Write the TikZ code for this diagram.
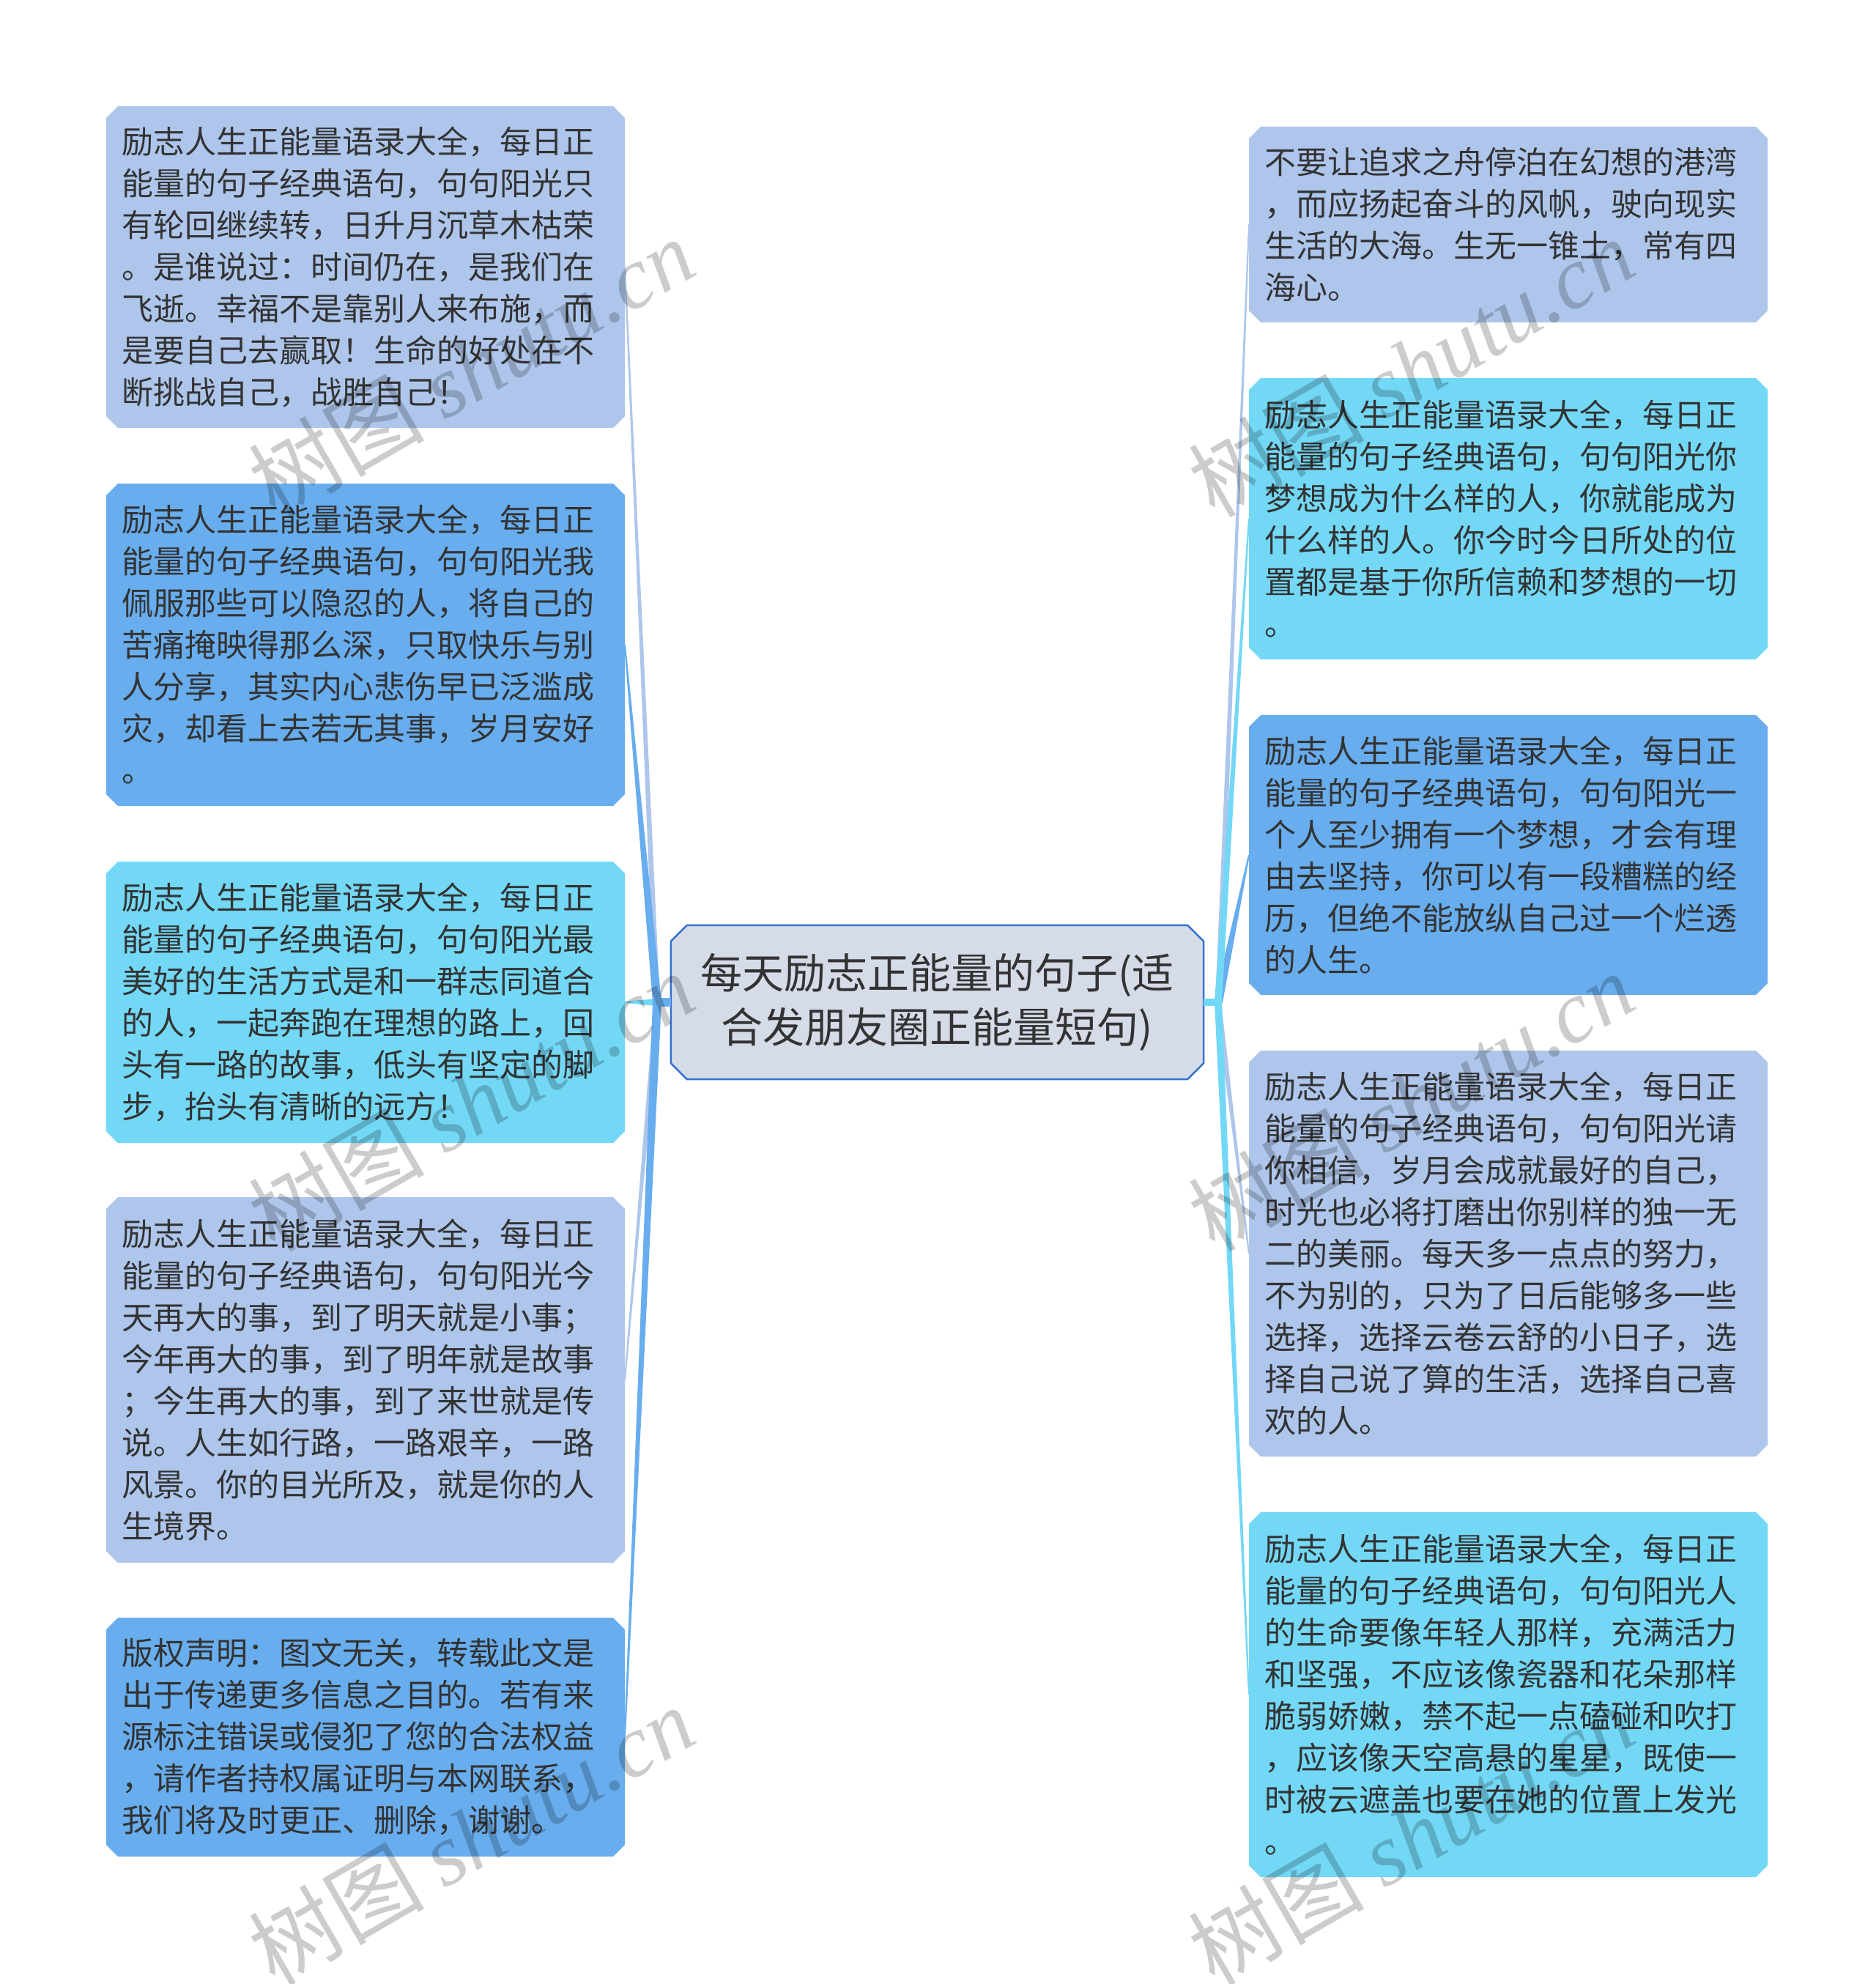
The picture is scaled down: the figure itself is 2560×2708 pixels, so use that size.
\documentclass[tikz,border=0pt]{standalone}
\usepackage{fontspec}
\setmainfont{Noto Sans CJK SC}
\newfontfamily\wmlatin{Liberation Serif}
\usetikzlibrary{calc}
\definecolor{lav}{RGB}{174,198,235}
\definecolor{mblue}{RGB}{104,173,238}
\definecolor{cyanb}{RGB}{115,216,246}
\definecolor{cfill}{RGB}{213,220,232}
\definecolor{cborder}{RGB}{52,112,206}
\definecolor{txt}{RGB}{51,51,51}
\newcommand\chamferfill[2]{%
  \fill[#1] ([xshift=#2]path picture bounding box.north west) -- ([xshift=-#2]path picture bounding box.north east)
   -- ([yshift=-#2]path picture bounding box.north east) -- ([yshift=#2]path picture bounding box.south east)
   -- ([xshift=-#2]path picture bounding box.south east) -- ([xshift=#2]path picture bounding box.south west)
   -- ([yshift=#2]path picture bounding box.south west) -- ([yshift=-#2]path picture bounding box.north west) -- cycle;}
\newcommand\wedgeconn[4]{%
  \fill[#4] ($(#1)!#3!90:(#2)$) -- ($(#2)!1pt!-90:(#1)$) -- ($(#2)!1pt!90:(#1)$) -- ($(#1)!#3!-90:(#2)$) -- cycle;}
\tikzset{
  cbox/.style={rectangle, minimum width=708pt, text width=666pt, inner xsep=21pt, inner ysep=0pt,
    align=left, text=txt, font=\fontsize{43pt}{57pt}\selectfont,
    path picture={\chamferfill{#1}{16pt}}},
  wmark/.style={rotate=30, text=black, text opacity=0.2, font=\fontsize{120pt}{120pt}\selectfont},
}
\begin{document}
\begin{tikzpicture}[x=1pt,y=-1pt]
\useasboundingbox (0,0) rectangle (2560,2708);
% junction points
\coordinate (jl) at (897,1368);
\coordinate (jr) at (1663,1368);
% boxes (positions only; drawn later)
\path
 (499,364.5) coordinate (pL1) (499,880) coordinate (pL2) (499,1368) coordinate (pL3)
 (499,1883.5) coordinate (pL4) (499,2371) coordinate (pL5)
 (2059,306.5) coordinate (pR1) (2059,708) coordinate (pR2) (2059,1167) coordinate (pR3)
 (2059,1711) coordinate (pR4) (2059,2313) coordinate (pR5);
% connectors
\coordinate (eL1) at (853,364.5);
\coordinate (eL2) at (853,880);
\coordinate (eL3) at (853,1368);
\coordinate (eL4) at (853,1883.5);
\coordinate (eL5) at (853,2371);
\coordinate (eR1) at (1705,306.5);
\coordinate (eR2) at (1705,708);
\coordinate (eR3) at (1705,1167);
\coordinate (eR4) at (1705,1711);
\coordinate (eR5) at (1705,2313);
\wedgeconn{jl}{eL1}{4pt}{lav}
\wedgeconn{jl}{eL4}{4pt}{lav}
\wedgeconn{jl}{eL3}{5pt}{cyanb}
\wedgeconn{jl}{eL2}{6pt}{mblue}
\wedgeconn{jl}{eL5}{6pt}{mblue}
\wedgeconn{jr}{eR1}{4pt}{lav}
\wedgeconn{jr}{eR4}{4pt}{lav}
\wedgeconn{jr}{eR3}{6pt}{mblue}
\wedgeconn{jr}{eR2}{5pt}{cyanb}
\wedgeconn{jr}{eR5}{5pt}{cyanb}
% center
\node[rectangle, minimum width=727pt, minimum height=210pt, inner sep=0pt, align=center, text=txt,
  font=\fontsize{57pt}{74pt}\selectfont, path picture={\chamferfill{cfill}{22pt}}] (C) at (1279.5,1368)
  {每天励志正能量的句子(适\\合发朋友圈正能量短句)};
\draw[cborder, line width=2.5pt, line join=round]
  ([xshift=22pt]C.north west) -- ([xshift=-22pt]C.north east) -- ([yshift=-22pt]C.north east)
  -- ([yshift=22pt]C.south east) -- ([xshift=-22pt]C.south east) -- ([xshift=22pt]C.south west)
  -- ([yshift=22pt]C.south west) -- ([yshift=-22pt]C.north west) -- cycle;
\draw[mblue, line width=12pt] (C.west) -- (jl);
\draw[cyanb, line width=10pt] (C.east) -- (jr);
% left boxes
\node[cbox=lav, minimum height=439pt] (L1) at (pL1) {励志人生正能量语录大全，每日正\\能量的句子经典语句，句句阳光只\\有轮回继续转，日升月沉草木枯荣\\。是谁说过：时间仍在，是我们在\\飞逝。幸福不是靠别人来布施，而\\是要自己去赢取！生命的好处在不\\断挑战自己，战胜自己！};
\node[cbox=mblue, minimum height=440pt] (L2) at (pL2) {励志人生正能量语录大全，每日正\\能量的句子经典语句，句句阳光我\\佩服那些可以隐忍的人，将自己的\\苦痛掩映得那么深，只取快乐与别\\人分享，其实内心悲伤早已泛滥成\\灾，却看上去若无其事，岁月安好\\。};
\node[cbox=cyanb, minimum height=384pt] (L3) at (pL3) {励志人生正能量语录大全，每日正\\能量的句子经典语句，句句阳光最\\美好的生活方式是和一群志同道合\\的人，一起奔跑在理想的路上，回\\头有一路的故事，低头有坚定的脚\\步，抬头有清晰的远方！};
\node[cbox=lav, minimum height=499pt] (L4) at (pL4) {励志人生正能量语录大全，每日正\\能量的句子经典语句，句句阳光今\\天再大的事，到了明天就是小事；\\今年再大的事，到了明年就是故事\\；今生再大的事，到了来世就是传\\说。人生如行路，一路艰辛，一路\\风景。你的目光所及，就是你的人\\生境界。};
\node[cbox=mblue, minimum height=326pt] (L5) at (pL5) {版权声明：图文无关，转载此文是\\出于传递更多信息之目的。若有来\\源标注错误或侵犯了您的合法权益\\，请作者持权属证明与本网联系，\\我们将及时更正、删除，谢谢。};
% right boxes
\node[cbox=lav, minimum height=267pt] (R1) at (pR1) {不要让追求之舟停泊在幻想的港湾\\，而应扬起奋斗的风帆，驶向现实\\生活的大海。生无一锥土，常有四\\海心。};
\node[cbox=cyanb, minimum height=384pt] (R2) at (pR2) {励志人生正能量语录大全，每日正\\能量的句子经典语句，句句阳光你\\梦想成为什么样的人，你就能成为\\什么样的人。你今时今日所处的位\\置都是基于你所信赖和梦想的一切\\。};
\node[cbox=mblue, minimum height=382pt] (R3) at (pR3) {励志人生正能量语录大全，每日正\\能量的句子经典语句，句句阳光一\\个人至少拥有一个梦想，才会有理\\由去坚持，你可以有一段糟糕的经\\历，但绝不能放纵自己过一个烂透\\的人生。};
\node[cbox=lav, minimum height=554pt] (R4) at (pR4) {励志人生正能量语录大全，每日正\\能量的句子经典语句，句句阳光请\\你相信，岁月会成就最好的自己，\\时光也必将打磨出你别样的独一无\\二的美丽。每天多一点点的努力，\\不为别的，只为了日后能够多一些\\选择，选择云卷云舒的小日子，选\\择自己说了算的生活，选择自己喜\\欢的人。};
\node[cbox=cyanb, minimum height=498pt] (R5) at (pR5) {励志人生正能量语录大全，每日正\\能量的句子经典语句，句句阳光人\\的生命要像年轻人那样，充满活力\\和坚强，不应该像瓷器和花朵那样\\脆弱娇嫩，禁不起一点磕碰和吹打\\，应该像天空高悬的星星，既使一\\时被云遮盖也要在她的位置上发光\\。};
% watermarks
\node[wmark] (w1) at (643,501) {树图 {\wmlatin\itshape shutu.cn}};
\node[wmark] (w2) at (643,1503) {树图 {\wmlatin\itshape shutu.cn}};
\node[wmark] (w3) at (643,2505) {树图 {\wmlatin\itshape shutu.cn}};
\node[wmark] (w4) at (1926,501) {树图 {\wmlatin\itshape shutu.cn}};
\node[wmark] (w5) at (1926,1503) {树图 {\wmlatin\itshape shutu.cn}};
\node[wmark] (w6) at (1926,2505) {树图 {\wmlatin\itshape shutu.cn}};
\end{tikzpicture}
\end{document}
